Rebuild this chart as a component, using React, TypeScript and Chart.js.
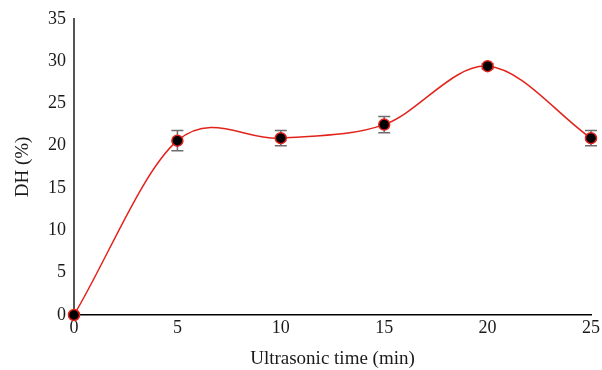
import React, { useEffect, useRef } from "react";
import { Chart, registerables } from "chart.js";

Chart.register(...registerables);

const times = [0, 5, 10, 15, 20, 25];
const dhValues = [0, 20.6, 20.9, 22.5, 29.4, 20.9];
const dhErrors = [0.2, 1.2, 0.9, 0.95, 0.3, 0.9];
const yTicks = [0, 5, 10, 15, 20, 25, 30, 35];
const xTicks = [0, 5, 10, 15, 20, 25];

const FONT = "'Liberation Serif', 'DejaVu Serif', serif";

// Smoothed line (Catmull-Rom style) computed from the library's point elements
function setSmoothControlPoints(points: any[]) {
  const n = points.length;
  for (let i = 0; i < n; i++) {
    const p = points[i];
    const prev = points[i - 1];
    const next = points[i + 1];
    let dx: number, dy: number;
    if (prev && next) {
      dx = (next.x - prev.x) / 6;
      dy = (next.y - prev.y) / 6;
    } else if (next) {
      dx = (next.x - p.x) / 3;
      dy = (next.y - p.y) / 3;
    } else if (prev) {
      dx = (p.x - prev.x) / 3;
      dy = (p.y - prev.y) / 3;
    } else {
      dx = 0;
      dy = 0;
    }
    p.cp1x = p.x - dx;
    p.cp1y = p.y - dy;
    p.cp2x = p.x + dx;
    p.cp2y = p.y + dy;
  }
}

const smoothPlugin = {
  id: "smoothLine",
  beforeDatasetsDraw(chart: any) {
    chart.getSortedVisibleDatasetMetas().forEach((meta: any) => {
      const line = meta.dataset;
      if (!line) return;
      setSmoothControlPoints(meta.data);
      line._pointsUpdated = true;
      line.updateControlPoints = () => {};
    });
  },
};

const errorBarPlugin = {
  id: "errorBars",
  beforeDatasetsDraw(chart: any) {
    const { ctx, scales } = chart;
    const xs = scales.x;
    const ys = scales.y;
    ctx.save();
    ctx.strokeStyle = "#6e6e6e";
    ctx.lineWidth = 1.5;
    times.forEach((t, i) => {
      const x = xs.getPixelForValue(t);
      const yTop = ys.getPixelForValue(dhValues[i] + dhErrors[i]);
      const yBot = ys.getPixelForValue(dhValues[i] - dhErrors[i]);
      ctx.beginPath();
      ctx.moveTo(x, yTop);
      ctx.lineTo(x, yBot);
      ctx.moveTo(x - 6, yTop);
      ctx.lineTo(x + 6, yTop);
      ctx.moveTo(x - 6, yBot);
      ctx.lineTo(x + 6, yBot);
      ctx.stroke();
    });
    ctx.restore();
  },
};

export default function App() {
  const ref = useRef<HTMLCanvasElement>(null);
  useEffect(() => {
    document.body.style.margin = "0";
    const canvas = ref.current!;
    const chart = new Chart(canvas, {
      type: "line",
      data: {
        datasets: [
          {
            data: times.map((t, i) => ({ x: t, y: dhValues[i] })),
            borderColor: "#e3231b",
            borderWidth: 1.5,
            tension: 0.4,
            capBezierPoints: false,
            pointRadius: 5.5,
            pointBorderWidth: 1.5,
            pointBackgroundColor: "#000000",
            pointBorderColor: "#e3231b",
            fill: false,
            clip: false as any,
          } as any,
        ],
      },
      options: {
        animation: false,
        responsive: false,
        maintainAspectRatio: false,
        layout: { padding: { top: 12, right: 10, left: 0, bottom: 0 } },
        plugins: { legend: { display: false }, tooltip: { enabled: false } },
        scales: {
          x: {
            type: "linear",
            min: 0,
            max: 25,
            afterBuildTicks: (s: any) => {
              s.ticks = xTicks.map((v) => ({ value: v }));
            },
            grid: { display: false, drawTicks: false },
            border: { display: true, color: "#000000", width: 1.5 },
            ticks: {
              color: "#1a1a1a",
              font: { family: FONT, size: 18 },
              padding: 2,
              maxRotation: 0,
            },
            title: {
              display: true,
              text: "Ultrasonic time (min)",
              color: "#1a1a1a",
              font: { family: FONT, size: 19 },
              padding: { top: 3, bottom: 0 },
            },
            afterFit: (s: any) => {
              s.height = 55;
            },
          },
          y: {
            type: "linear",
            min: 0,
            max: 35,
            afterBuildTicks: (s: any) => {
              s.ticks = yTicks.map((v) => ({ value: v }));
            },
            grid: { display: false, drawTicks: false },
            border: { display: true, color: "#555555", width: 2 },
            ticks: {
              color: "#1a1a1a",
              font: { family: FONT, size: 18 },
              padding: 8,
            },
            title: {
              display: true,
              text: "DH (%)",
              color: "#1a1a1a",
              font: { family: FONT, size: 19 },
              padding: { top: 12, bottom: 2 },
            },
            afterFit: (s: any) => {
              s.width = 74;
            },
          },
        },
      },
      plugins: [errorBarPlugin, smoothPlugin],
    });
    return () => chart.destroy();
  }, []);
  return (
    <div style={{ width: 602, height: 370 }}>
      <canvas ref={ref} width={602} height={370} style={{ display: "block" }} />
    </div>
  );
}
